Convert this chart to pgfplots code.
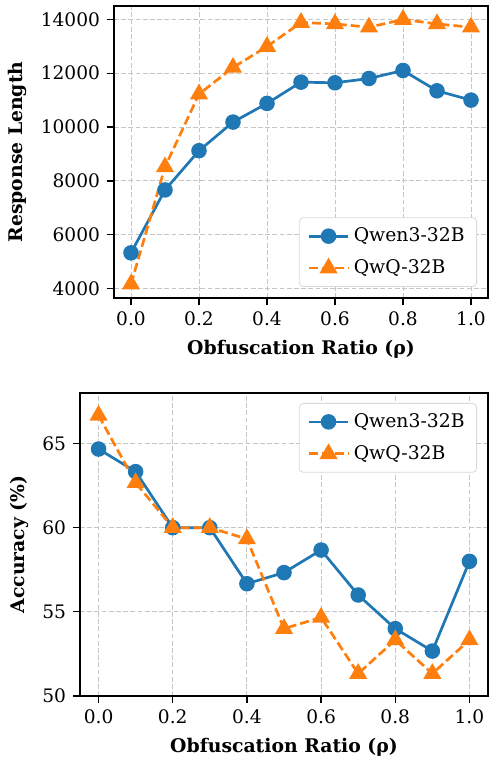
\documentclass[border=0pt]{standalone}
\usepackage{fontspec}
\setmainfont{DejaVu Serif}
\usepackage{pgfplots}
\pgfplotsset{compat=1.18}
\definecolor{qwen}{HTML}{1F77B4}
\definecolor{qwq}{HTML}{FF7F0E}
\pgfplotsset{
  ratioaxis/.style={
    scale only axis,
    xmin=-0.05, xmax=1.05,
    xtick={0,0.2,0.4,0.6,0.8,1.0},
    tick pos=left, tick align=outside,
    major tick length=3.5pt,
    every tick/.style={black, line width=0.6pt},
    axis line style={line width=0.8pt},
    grid=major,
    major grid style={gray!45, line width=0.5pt, dash pattern=on 2.4pt off 1.2pt},
    ticklabel style={font=\fontsize{9.3}{11}\selectfont},
    label style={font=\bfseries\fontsize{9.4}{11}\selectfont},
    /pgf/number format/assume math mode=true,
    xticklabel style={/pgf/number format/.cd, fixed, fixed zerofill, precision=1},
    xlabel={Obfuscation Ratio (ρ)},
    legend cell align=left,
    legend image code/.code={\draw[line width=1.35pt, mark repeat=2, mark phase=2]
      plot coordinates {(0cm,0cm) (0.35cm,0cm) (0.7cm,0cm)};},
    legend style={font=\fontsize{9.4}{11}\selectfont, draw=gray!30, fill=white,
      rounded corners=2pt, inner xsep=4pt, inner ysep=3pt, row sep=3.5pt},
  },
  qwenline/.style={color=qwen, line width=1.35pt, mark=*, mark size=3.2pt, mark options={solid}},
  qwqline/.style={color=qwq, line width=1.35pt, dash pattern=on 4.5pt off 2pt, mark=triangle*, mark size=3.9pt, mark options={solid}},
}
\begin{document}
\begin{tikzpicture}
\path[use as bounding box] (0,0) rectangle (244.5pt,380pt);
% top: response length
\begin{axis}[ratioaxis,
  at={(57pt,231pt)}, width=187pt, height=146pt,
  ymin=3658, ymax=14492,
  ytick={4000,6000,8000,10000,12000,14000},
  scaled y ticks=false,
  yticklabel style={/pgf/number format/1000 sep={}},
  ylabel={Response Length},
  legend style={at={(rel axis cs:1,0)}, anchor=south east, xshift=-5.5pt, yshift=5.5pt},
]
\addplot[qwenline] coordinates {
  (0.0,5333) (0.1,7667) (0.2,9123) (0.3,10185) (0.4,10877) (0.5,11667)
  (0.6,11642) (0.7,11802) (0.8,12099) (0.9,11346) (1.0,11000)};
\addlegendentry{Qwen3-32B}
\addplot[qwqline] coordinates {
  (0.0,4170) (0.1,8519) (0.2,11222) (0.3,12210) (0.4,12988) (0.5,13877)
  (0.6,13827) (0.7,13704) (0.8,13990) (0.9,13827) (1.0,13704)};
\addlegendentry{QwQ-32B}
\end{axis}
% bottom: accuracy
\begin{axis}[ratioaxis,
  at={(40pt,32pt)}, width=204pt, height=151.5pt,
  ymin=50, ymax=68,
  ytick={50,55,60,65},
  ylabel={Accuracy (\%)},
  legend style={at={(rel axis cs:1,1)}, anchor=north east, xshift=-5.5pt, yshift=-5pt},
]
\addplot[qwenline] coordinates {
  (0.0,64.67) (0.1,63.33) (0.2,60.00) (0.3,60.00) (0.4,56.67) (0.5,57.33)
  (0.6,58.67) (0.7,56.00) (0.8,54.00) (0.9,52.67) (1.0,58.00)};
\addlegendentry{Qwen3-32B}
\addplot[qwqline] coordinates {
  (0.0,66.67) (0.1,62.67) (0.2,60.00) (0.3,60.00) (0.4,59.33) (0.5,54.00)
  (0.6,54.67) (0.7,51.33) (0.8,53.33) (0.9,51.33) (1.0,53.33)};
\addlegendentry{QwQ-32B}
\end{axis}
\end{tikzpicture}
\end{document}
